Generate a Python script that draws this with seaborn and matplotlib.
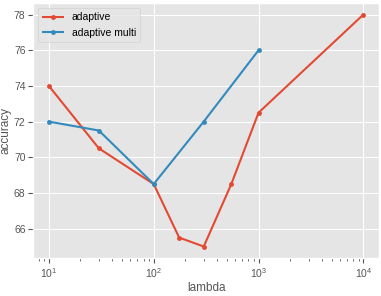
import pandas as pd
import matplotlib.pyplot as plt
import seaborn as sns

plt.style.use('ggplot')
plt.rcParams['font.family'] = ['Liberation Sans', 'DejaVu Sans']

# Data
lam_adaptive = [10, 30, 100, 175, 300, 550, 1000, 10000]
acc_adaptive = [74, 70.5, 68.5, 65.5, 65, 68.5, 72.5, 78]
lam_multi = [10, 30, 100, 300, 1000]
acc_multi = [72, 71.5, 68.5, 72, 76]

df = pd.concat([
    pd.DataFrame({'lambda': lam_adaptive, 'accuracy': acc_adaptive, 'method': 'adaptive'}),
    pd.DataFrame({'lambda': lam_multi, 'accuracy': acc_multi, 'method': 'adaptive multi'}),
])

fig = plt.figure(figsize=(3.81, 2.96), dpi=100)
ax = fig.add_axes([0.087, 0.128, 0.908, 0.862])
sns.lineplot(data=df, x='lambda', y='accuracy', hue='method',
             palette=['#E24A33', '#348ABD'], marker='o', markersize=3.5,
             markeredgewidth=0, linewidth=1.5, ax=ax)
ax.set_xscale('log')
ax.set_xlabel('lambda', fontsize=8.5, color='#555555', labelpad=2)
ax.set_ylabel('accuracy', fontsize=8.5, color='#555555', labelpad=2)
ax.tick_params(labelsize=7.5, pad=2)
ax.set_yticks([66, 68, 70, 72, 74, 76, 78])
leg = ax.legend(loc='upper left', fontsize=7.5, title=None)

fig.savefig('out.png', dpi=100)
